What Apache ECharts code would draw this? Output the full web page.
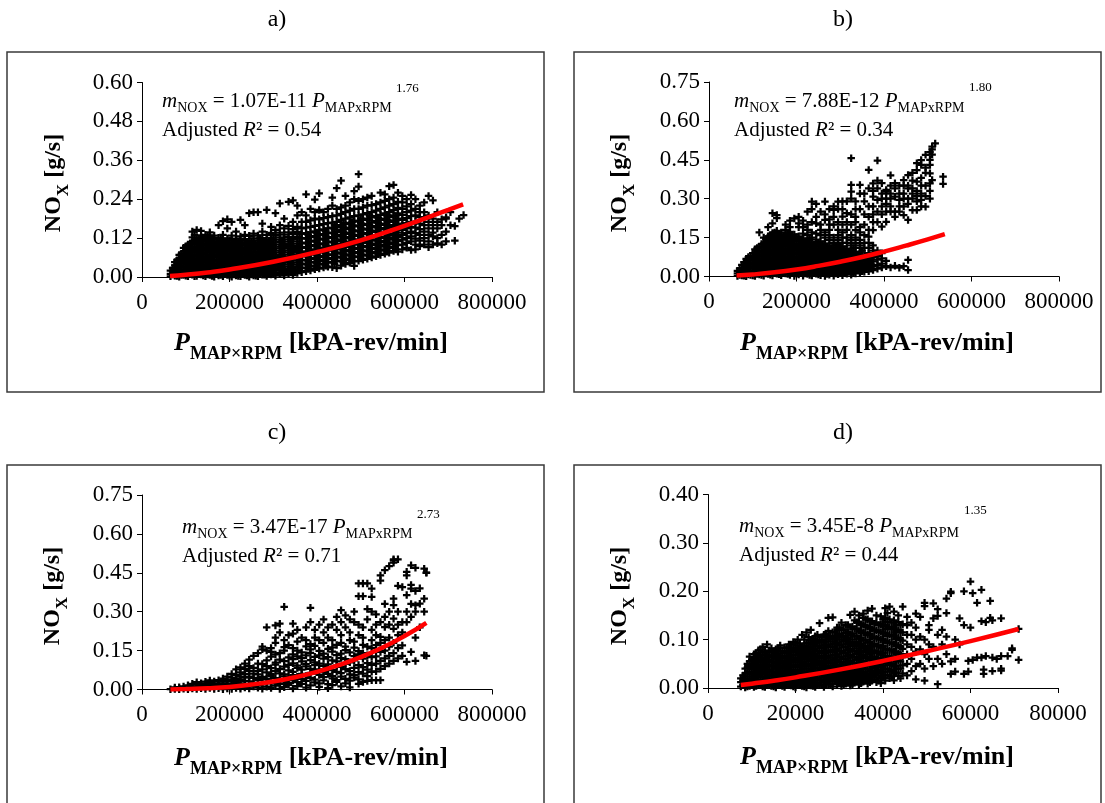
<!DOCTYPE html>
<html><head><meta charset="utf-8">
<script src="https://cdn.jsdelivr.net/npm/echarts@6/dist/echarts.min.js"></script>
<style>html,body{margin:0;padding:0;background:#fff}#c{width:1105px;height:803px}</style>
</head><body><div id="c"></div>
<script>
// ---------- DATA (x in thousands of kPA-rev/min, then NOx values [g/s] read at that x) ----------
const panelTitles = ['a)', 'b)', 'c)', 'd)'];
const eqCoef = ['1.07E-11', '7.88E-12', '3.47E-17', '3.45E-8'];
const eqExp = ['1.76', '1.80', '2.73', '1.35'];
const adjR2 = ['0.54', '0.34', '0.71', '0.44'];
const xMaxes = [800000, 800000, 800000, 80000];
const xSteps = [200000, 200000, 200000, 20000];
const yMaxes = [0.60, 0.75, 0.75, 0.40];
const ySteps = [0.12, 0.15, 0.15, 0.10];

const ptsA = [
[65,[.002,.01,.02]],
[70,[.008,.019,.028]],
[75,[.004,.014,.025,.036,.046]],
[80,[.003,.016,.03,.041,.052]],
[85,[.001,.011,.022,.034,.046,.058,.068]],
[90,[.006,.02,.031,.047,.06,.072]],
[95,[.006,.017,.029,.041,.053,.065,.078,.09]],
[100,[.004,.017,.03,.043,.057,.07,.082,.095]],
[105,[.002,.013,.025,.037,.049,.061,.074,.087,.1]],
[110,[.009,.022,.035,.05,.063,.077,.09,.104]],
[115,[.007,.019,.031,.043,.055,.068,.081,.094,.108,.122,.14]],
[120,[.002,.016,.03,.044,.057,.07,.085,.1,.113,.13]],
[125,[.003,.014,.026,.038,.05,.063,.076,.089,.102,.116,.145]],
[130,[.01,.023,.037,.051,.065,.079,.092,.106,.12]],
[135,[.008,.02,.032,.044,.057,.07,.083,.096,.11,.124,.142]],
[140,[.005,.02,.033,.047,.061,.074,.088,.102,.115]],
[145,[.002,.013,.025,.037,.05,.063,.076,.089,.103,.117,.13]],
[150,[.008,.03,.045,.057,.07,.086,.099,.112,.125]],
[155,[.006,.018,.03,.042,.055,.068,.081,.094,.108,.122,.138]],
[160,[.003,.017,.03,.049,.064,.078,.091,.107,.12]],
[165,[.001,.012,.024,.036,.049,.062,.075,.088,.101,.115,.128]],
[170,[.01,.022,.039,.053,.07,.085,.098,.11]],
[175,[.005,.017,.029,.041,.054,.067,.08,.093,.107,.121,.16]],
[180,[.006,.02,.033,.045,.06,.073,.089,.103,.115]],
[185,[.002,.011,.023,.035,.048,.061,.074,.087,.1,.114,.13,.172]],
[190,[.009,.024,.037,.05,.067,.081,.095,.11]],
[195,[.006,.016,.028,.04,.053,.066,.079,.092,.105,.119,.15,.178]],
[200,[.004,.016,.03,.043,.057,.07,.084,.097,.112]],
[205,[.001,.01,.022,.034,.047,.06,.073,.086,.1,.113,.128,.17]],
[210,[.008,.02,.034,.049,.062,.076,.09,.106]],
[215,[.005,.015,.027,.039,.052,.065,.078,.091,.104,.118,.14]],
[220,[.003,.017,.028,.04,.055,.068,.081,.094,.108]],
[225,[.002,.01,.021,.033,.046,.059,.072,.085,.098,.112,.125,.176]],
[230,[.01,.022,.035,.05,.063,.078,.09,.105]],
[235,[.006,.016,.027,.039,.051,.064,.077,.09,.103,.117,.13,.16]],
[240,[.005,.017,.03,.044,.057,.07,.083,.1]],
[245,[.001,.011,.022,.034,.046,.059,.072,.085,.098,.112,.127,.197]],
[250,[.008,.024,.037,.05,.064,.078,.093,.11]],
[255,[.005,.016,.028,.04,.052,.065,.078,.091,.105,.119,.134,.2]],
[260,[.004,.016,.03,.043,.055,.069,.085,.1]],
[265,[.002,.012,.023,.035,.047,.06,.073,.086,.099,.113,.128,.2]],
[270,[.011,.023,.036,.049,.062,.075,.09,.105,.12]],
[275,[.007,.018,.029,.041,.053,.066,.079,.092,.106,.12,.14,.165]],
[280,[.007,.019,.032,.045,.058,.07,.083,.096,.11]],
[285,[.003,.013,.024,.036,.048,.061,.074,.087,.1,.114,.13,.207]],
[290,[.013,.025,.038,.051,.064,.077,.09,.104]],
[295,[.008,.019,.03,.042,.054,.067,.08,.093,.107,.121,.136,.155]],
[300,[.009,.021,.034,.047,.06,.073,.086,.1,.115]],
[305,[.004,.014,.025,.037,.049,.062,.075,.088,.101,.115,.13,.145,.197]],
[315,[.009,.02,.031,.043,.055,.068,.081,.094,.108,.122,.137,.16,.227]],
[320,[.013,.028,.041,.054,.067,.08,.095,.11]],
[325,[.005,.015,.026,.038,.05,.063,.076,.089,.102,.116,.131,.15,.18]],
[335,[.01,.021,.032,.044,.056,.069,.082,.095,.109,.123,.138,.158,.232]],
[340,[.018,.03,.043,.058,.071,.085,.1,.115]],
[345,[.006,.016,.027,.039,.051,.064,.077,.09,.103,.117,.132,.148,.17,.236]],
[355,[.012,.022,.033,.045,.057,.07,.083,.096,.11,.124,.139,.155,.19,.22]],
[360,[.02,.034,.047,.06,.074,.088,.1,.12]],
[365,[.015,.027,.039,.051,.064,.077,.09,.104,.118,.133,.15,.17,.2]],
[375,[.018,.029,.041,.053,.066,.079,.092,.106,.12,.135,.152,.17,.19,.255]],
[380,[.025,.037,.05,.063,.076,.09,.104,.118,.13]],
[385,[.02,.032,.044,.056,.069,.082,.095,.109,.123,.138,.155,.175,.21]],
[395,[.024,.035,.047,.059,.072,.085,.098,.112,.126,.141,.158,.18,.2,.239]],
[400,[.03,.043,.056,.07,.083,.095,.11,.123,.137]],
[405,[.026,.038,.05,.062,.075,.088,.101,.115,.129,.144,.16,.178,.207,.258]],
[415,[.029,.041,.053,.065,.078,.091,.104,.118,.132,.147,.163,.182,.2]],
[420,[.035,.048,.061,.074,.087,.1,.114,.128,.142]],
[425,[.032,.044,.056,.068,.081,.094,.107,.121,.135,.15,.166,.185,.21]],
[435,[.03,.046,.058,.07,.083,.096,.109,.123,.137,.152,.168,.188,.22,.245]],
[440,[.04,.053,.066,.079,.092,.105,.119,.133,.147,.16]],
[445,[.027,.048,.06,.072,.085,.098,.111,.125,.139,.154,.17,.19,.21,.274]],
[455,[.035,.05,.063,.076,.089,.102,.116,.13,.145,.16,.176,.195,.215,.297]],
[460,[.045,.058,.071,.084,.097,.11,.124,.138,.152,.166]],
[465,[.04,.053,.066,.079,.092,.105,.119,.133,.148,.163,.18,.2,.22,.25]],
[475,[.044,.057,.07,.083,.096,.109,.123,.137,.152,.167,.184,.205,.23]],
[480,[.05,.063,.076,.089,.102,.115,.13,.143,.157,.17]],
[485,[.034,.048,.061,.074,.087,.1,.113,.127,.141,.156,.171,.188,.21,.24,.265]],
[495,[.05,.064,.077,.09,.103,.116,.13,.144,.159,.174,.19,.21,.235,.279,.317]],
[500,[.057,.07,.083,.096,.11,.124,.138,.152,.166,.18]],
[505,[.053,.066,.079,.092,.105,.118,.132,.146,.161,.176,.193,.215,.24]],
[515,[.056,.069,.082,.095,.108,.121,.135,.149,.164,.18,.197,.22,.245]],
[520,[.064,.077,.09,.103,.117,.131,.145,.16,.175,.19]],
[525,[.06,.073,.086,.099,.112,.125,.139,.153,.168,.184,.2,.222,.25]],
[535,[.064,.077,.09,.103,.116,.129,.143,.157,.172,.188,.205,.225]],
[540,[.07,.083,.096,.11,.124,.138,.152,.167,.182]],
[545,[.068,.081,.094,.107,.12,.133,.147,.161,.176,.192,.21,.23,.26]],
[555,[.072,.085,.098,.111,.124,.137,.151,.165,.18,.196,.215,.235,.255]],
[560,[.078,.091,.104,.118,.132,.146,.16,.175,.19]],
[565,[.075,.089,.102,.115,.128,.141,.155,.17,.185,.2,.22,.24,.28]],
[575,[.08,.094,.107,.12,.133,.146,.16,.175,.19,.206,.225,.245,.284]],
[580,[.085,.1,.114,.128,.142,.157,.172,.188]],
[585,[.078,.098,.111,.124,.137,.15,.165,.18,.196,.213,.232,.26]],
[595,[.085,.1,.115,.13,.145,.16,.176,.192,.21,.23,.25]],
[605,[.09,.105,.12,.135,.15,.166,.182,.2,.218,.24]],
[615,[.083,.11,.125,.14,.155,.17,.188,.205,.225,.253]],
[625,[.085,.1,.118,.135,.152,.17,.19,.21,.24]],
[635,[.095,.112,.13,.148,.165,.185,.2,.22]],
[645,[.1,.12,.14,.16,.18,.2,.23]],
[655,[.092,.11,.13,.15,.17,.19,.25]],
[665,[.1,.125,.137,.16,.18,.236]],
[675,[.104,.12,.15,.17,.2]],
[685,[.1,.13,.16,.178]],
[695,[.11,.14,.18,.184]],
[705,[.16,.2]],
[715,[.112,.157]],
[725,[.18]],
[735,[.191]]
];
const fitA = [[64,.003],[100,.007],[150,.014],[200,.023],[300,.047],[400,.077],[500,.113],[600,.158],[700,.207],[734,.224]];

const ptsB = [
[65,[.002,.012,.022]],
[70,[.006,.02,.03]],
[75,[.004,.018,.032,.045]],
[80,[.003,.017,.03,.045,.055]],
[85,[.001,.014,.028,.042,.056,.068]],
[90,[.008,.022,.037,.052,.066,.075]],
[95,[.006,.02,.035,.05,.065,.08]],
[100,[.004,.018,.033,.048,.063,.078,.09]],
[105,[.002,.016,.031,.046,.061,.076,.092,.105]],
[110,[.01,.025,.04,.055,.07,.085,.1,.11]],
[115,[.008,.023,.038,.053,.068,.084,.1,.116,.17]],
[120,[.006,.021,.036,.051,.066,.081,.096,.112,.125]],
[125,[.003,.018,.033,.048,.063,.079,.095,.111,.128,.15]],
[130,[.012,.027,.042,.057,.072,.087,.102,.118,.133,.145]],
[135,[.01,.025,.04,.055,.071,.087,.103,.12,.137,.155,.19]],
[140,[.007,.022,.037,.052,.067,.082,.097,.112,.128,.143,.16]],
[145,[.004,.019,.034,.05,.066,.082,.098,.115,.132,.15,.168,.205,.244]],
[150,[.014,.029,.044,.059,.074,.089,.104,.12,.136,.152,.17]],
[155,[.011,.026,.042,.058,.074,.09,.107,.124,.141,.158,.176,.237,.225]],
[160,[.009,.024,.039,.054,.069,.084,.099,.115,.131,.147,.165]],
[165,[.005,.02,.035,.051,.067,.083,.1,.117,.134,.151,.17]],
[170,[.015,.03,.045,.06,.075,.09,.106,.122,.138,.155]],
[175,[.012,.027,.043,.059,.075,.091,.108,.125,.142,.16,.18,.2]],
[180,[.01,.025,.04,.055,.07,.085,.1,.116,.132,.148,.165]],
[185,[.006,.021,.036,.052,.068,.084,.101,.118,.135,.152,.172,.19,.215]],
[190,[.016,.031,.046,.061,.076,.091,.107,.123,.14,.158]],
[195,[.002,.014,.029,.045,.061,.077,.093,.11,.127,.144,.162,.224]],
[200,[.011,.026,.041,.056,.071,.086,.102,.118,.135,.152]],
[205,[.008,.023,.038,.054,.07,.086,.103,.12,.137,.155,.19,.205,.23]],
[210,[.017,.032,.047,.062,.077,.092,.108,.124,.142]],
[215,[.003,.016,.031,.047,.063,.079,.095,.112,.129,.146,.165,.19,.215]],
[220,[.012,.027,.042,.057,.072,.087,.103,.12,.137]],
[225,[.01,.025,.04,.056,.072,.088,.105,.122,.14,.16,.18,.2,.25]],
[230,[.006,.02,.035,.05,.065,.08,.096,.112,.128,.145]],
[235,[.004,.018,.033,.049,.065,.081,.097,.114,.131,.15,.17,.21,.26,.289]],
[240,[.013,.028,.043,.058,.073,.089,.105,.122]],
[245,[.011,.026,.042,.058,.074,.09,.107,.124,.142,.165,.205,.23,.28]],
[250,[.008,.022,.037,.052,.067,.082,.098,.115,.13]],
[255,[.005,.02,.035,.051,.067,.083,.1,.117,.135,.16,.18,.2,.25]],
[260,[.015,.03,.045,.06,.075,.091,.107,.124]],
[265,[.002,.013,.028,.044,.06,.076,.092,.109,.127,.15,.17,.218,.24,.289]],
[270,[.01,.024,.039,.054,.069,.085,.1,.117]],
[275,[.007,.022,.037,.053,.069,.085,.102,.12,.14,.16,.18,.2,.22,.26]],
[280,[.017,.032,.047,.062,.077,.093,.11]],
[285,[.003,.015,.03,.046,.062,.078,.094,.112,.13,.15,.2,.23,.257,.27]],
[290,[.012,.026,.041,.056,.071,.087,.104,.12]],
[295,[.009,.024,.04,.056,.072,.088,.105,.122,.14,.16,.18,.21,.26,.289]],
[300,[.019,.034,.049,.064,.079,.095,.11]],
[305,[.005,.018,.033,.049,.065,.081,.098,.115,.13,.15,.17,.2,.231,.26,.29]],
[310,[.014,.029,.044,.059,.074,.09,.106]],
[315,[.011,.026,.042,.058,.074,.09,.107,.13,.15,.18,.21,.244,.29]],
[320,[.02,.036,.051,.066,.081,.097]],
[325,[.007,.02,.035,.051,.067,.083,.1,.12,.14,.16,.2,.24,.3,.327,.353,.456]],
[330,[.016,.031,.046,.061,.076,.092,.11]],
[335,[.012,.028,.044,.06,.076,.092,.11,.13,.15,.179,.21,.23,.26,.29]],
[340,[.024,.039,.054,.069,.085]],
[345,[.015,.03,.046,.062,.078,.095,.12,.141,.17,.19,.26,.32,.353]],
[350,[.02,.035,.05,.066,.082,.1]],
[355,[.018,.034,.05,.066,.082,.11,.13,.16,.2,.24,.29,.32]],
[360,[.028,.044,.06,.078]],
[365,[.02,.037,.053,.07,.09,.11,.13,.154,.18,.23,.27,.34,.411]],
[370,[.035,.05,.068]],
[375,[.025,.04,.058,.075,.1,.12,.179,.21,.24,.27,.308,.33,.359]],
[385,[.03,.045,.065,.08,.1,.21,.25,.295,.34,.37,.447]],
[395,[.035,.05,.07,.09,.192,.24,.27,.3,.32,.36]],
[405,[.04,.06,.211,.25,.28,.3,.327,.334]],
[415,[.035,.25,.27,.3,.32,.35,.39]],
[425,[.041,.23,.25,.308,.34,.36]],
[435,[.034,.25,.27,.295,.32,.35]],
[445,[.04,.237,.27,.3,.32,.35,.372]],
[455,[.025,.064,.218,.28,.3,.34,.35,.391]],
[465,[.256,.3,.32,.34,.37,.4]],
[475,[.256,.29,.31,.33,.366,.41,.437]],
[485,[.27,.295,.32,.35,.38,.43,.449]],
[495,[.269,.31,.35,.4,.42,.469]],
[505,[.3,.33,.359,.398,.43,.45,.48]],
[510,[.372,.47,.49,.501]],
[517,[.513]],
[535,[.357,.385]]
];
const fitB = [[63,.004],[100,.008],[150,.016],[200,.027],[250,.041],[300,.057],[350,.075],[400,.096],[450,.119],[500,.143],[539,.163]];

const ptsC = [
[65,[.001]],
[75,[.002,.008]],
[85,[.001,.009]],
[95,[.003,.012]],
[105,[.001,.008,.016]],
[115,[.004,.012,.022]],
[125,[.002,.01,.019,.028]],
[135,[.005,.014,.024]],
[145,[.002,.011,.02,.03]],
[155,[.006,.015,.025,.035]],
[165,[.002,.011,.021,.031]],
[175,[.005,.014,.024,.036]],
[185,[.001,.01,.02,.03,.042]],
[195,[.004,.013,.024,.036,.05]],
[205,[.002,.011,.021,.033,.046,.06]],
[215,[.006,.016,.028,.041,.056,.078]],
[225,[.003,.012,.024,.037,.05,.066,.085]],
[235,[.008,.02,.033,.046,.06,.08,.1]],
[245,[.004,.019,.031,.05,.072,.09,.115]],
[255,[.012,.026,.045,.061,.083,.13]],
[265,[.007,.016,.036,.058,.072,.1,.14]],
[275,[.003,.021,.043,.049,.078,.098,.155,.165]],
[285,[.011,.03,.041,.066,.09,.112,.15,.24]],
[295,[.006,.024,.052,.059,.082,.127,.145,.16]],
[305,[.015,.027,.044,.071,.096,.104,.135,.18,.2,.247]],
[315,[.002,.021,.035,.062,.079,.115,.14,.22,.254]],
[325,[.009,.03,.051,.058,.088,.109,.15,.163,.19,.319]],
[335,[.018,.026,.047,.074,.095,.124,.171,.21]],
[345,[.004,.036,.055,.068,.101,.117,.135,.16,.215,.254]],
[355,[.013,.028,.049,.083,.092,.128,.15,.185,.23]],
[365,[.022,.041,.06,.077,.108,.121,.143,.2]],
[375,[.007,.033,.052,.089,.098,.132,.166,.19,.24]],
[385,[.016,.045,.064,.08,.113,.141,.155,.175,.26,.315]],
[395,[.027,.038,.071,.094,.105,.126,.168,.2,.23]],
[405,[.01,.024,.056,.078,.1,.132,.149,.19,.25]],
[415,[.035,.048,.067,.091,.119,.138,.18,.22,.27]],
[425,[.005,.021,.06,.084,.097,.125,.157,.2,.24]],
[435,[.017,.043,.052,.075,.112,.146,.162,.19,.25]],
[445,[.029,.036,.068,.092,.108,.133,.172,.23,.28]],
[455,[.012,.05,.063,.087,.121,.138,.18,.21,.26,.306]],
[465,[.024,.041,.079,.099,.117,.152,.165,.24,.286]],
[475,[.008,.034,.058,.071,.105,.143,.19,.22,.27]],
[485,[.046,.055,.083,.112,.129,.161,.185,.26,.3]],
[495,[.022,.039,.067,.094,.135,.148,.21,.25,.36,.409]],
[505,[.029,.061,.086,.119,.14,.172,.2,.24,.36,.409]],
[515,[.033,.052,.077,.102,.132,.165,.27,.31,.409]],
[525,[.036,.068,.095,.125,.16,.19,.23,.3,.357,.389]],
[535,[.036,.07,.1,.128,.171,.21,.25,.29]],
[545,[.036,.08,.11,.145,.18,.203,.26,.42,.44]],
[555,[.09,.12,.15,.19,.241,.28,.33,.46]],
[565,[.1,.13,.165,.2,.25,.3,.476]],
[575,[.11,.14,.18,.234,.273,.325,.35,.489,.498,.502]],
[585,[.12,.16,.21,.25,.3,.4,.502]],
[595,[.13,.17,.22,.26,.395]],
[605,[.107,.26,.3,.364,.44,.454]],
[615,[.145,.28,.33,.389,.403,.479]],
[625,[.11,.2,.3,.325,.38,.469]],
[635,[.24,.331,.39]],
[645,[.132,.3,.35,.466]],
[650,[.13,.45,.451]]
];
const fitC = [[65,0],[100,.002],[150,.005],[200,.01],[250,.019],[300,.031],[350,.047],[400,.068],[450,.094],[500,.125],[550,.162],[600,.206],[650,.257]];

const ptsD = [
[7.5,[.003,.012,.02]],
[8,[.006,.016,.026]],
[8.5,[.001,.01,.02,.03,.04]],
[9,[.003,.017,.03,.042,.05]],
[9.5,[.004,.014,.024,.034,.045,.055,.065]],
[10,[.007,.019,.028,.039,.049,.058]],
[10.5,[.002,.011,.021,.031,.041,.051,.061,.07]],
[11,[.004,.013,.024,.034,.044,.054,.064,.072]],
[11.5,[.006,.016,.026,.036,.046,.056,.066,.078]],
[12,[.008,.018,.029,.039,.049,.059,.069,.08]],
[12.5,[.003,.013,.023,.033,.043,.053,.063,.073,.085]],
[13,[.002,.012,.023,.033,.043,.053,.063,.075]],
[13.5,[.008,.018,.028,.038,.048,.058,.068,.09]],
[14,[.007,.017,.027,.037,.047,.057,.067,.078]],
[14.5,[.004,.014,.024,.034,.044,.054,.064,.074,.082]],
[15,[.003,.013,.024,.034,.045,.055,.066,.076]],
[15.5,[.001,.011,.021,.031,.041,.051,.061,.071,.08]],
[16,[.008,.019,.029,.039,.049,.059,.07,.082]],
[16.5,[.006,.016,.026,.036,.046,.056,.066,.076,.088]],
[17,[.004,.014,.025,.035,.045,.055,.066,.077]],
[17.5,[.002,.012,.022,.032,.042,.052,.062,.072,.084]],
[18,[.009,.02,.03,.04,.05,.061,.072,.083]],
[18.5,[.007,.017,.027,.037,.047,.057,.067,.077,.09]],
[19,[.005,.015,.026,.036,.046,.057,.068,.079,.09]],
[19.5,[.003,.013,.023,.033,.043,.053,.063,.073,.083,.095]],
[20,[.001,.011,.021,.032,.043,.053,.063,.074,.084,.094]],
[20.5,[.008,.018,.028,.038,.048,.058,.068,.078,.088,.1]],
[21,[.006,.016,.027,.037,.048,.059,.07,.081,.092]],
[21.5,[.004,.014,.024,.034,.044,.054,.064,.074,.085,.11]],
[22,[.003,.013,.023,.034,.045,.055,.066,.077,.088,.1]],
[22.5,[.001,.01,.02,.03,.04,.05,.06,.07,.08,.092,.115]],
[23,[.008,.018,.029,.04,.05,.061,.072,.083,.094,.105]],
[23.5,[.005,.015,.025,.035,.045,.055,.065,.075,.086,.098,.12]],
[24,[.004,.015,.026,.036,.047,.058,.069,.08,.091,.102]],
[24.5,[.002,.011,.021,.031,.041,.051,.061,.071,.082,.094,.107]],
[25,[.01,.02,.031,.042,.053,.064,.075,.086,.097,.11]],
[25.5,[.006,.016,.026,.036,.046,.056,.066,.077,.088,.1,.134]],
[26,[.006,.017,.028,.039,.05,.061,.072,.083,.094,.105]],
[26.5,[.002,.012,.022,.032,.042,.052,.062,.072,.083,.095,.11]],
[27,[.012,.022,.033,.044,.055,.066,.077,.088,.1,.112]],
[27.5,[.007,.017,.027,.037,.047,.057,.067,.078,.09,.103,.118,.145]],
[28,[.008,.019,.03,.041,.052,.063,.074,.085,.096,.108]],
[28.5,[.003,.013,.023,.033,.043,.053,.063,.074,.086,.1,.115,.146]],
[29,[.014,.025,.035,.046,.057,.068,.079,.091,.103,.116]],
[29.5,[.008,.018,.028,.038,.048,.058,.069,.081,.094,.108,.125]],
[30,[.01,.021,.031,.042,.053,.064,.076,.088,.1,.112,.125]],
[30.5,[.004,.014,.024,.034,.044,.054,.065,.077,.09,.104,.12,.135]],
[31,[.006,.016,.027,.038,.049,.06,.072,.084,.096,.108,.121]],
[31.5,[.009,.019,.029,.039,.049,.06,.072,.085,.099,.114,.13]],
[32,[.012,.022,.033,.044,.055,.067,.079,.091,.103,.116,.13]],
[32.5,[.005,.015,.025,.035,.045,.056,.068,.081,.095,.11,.126,.151]],
[33,[.008,.018,.029,.04,.051,.063,.075,.087,.1,.113,.127]],
[33.5,[.011,.021,.031,.041,.052,.064,.077,.091,.106,.122,.14,.158]],
[34,[.014,.024,.035,.046,.058,.07,.082,.095,.108,.122,.136]],
[34.5,[.007,.017,.027,.037,.048,.06,.073,.087,.102,.118,.135,.15]],
[35,[.01,.02,.031,.042,.054,.066,.078,.091,.104,.118,.132]],
[35.5,[.013,.023,.033,.044,.056,.069,.083,.098,.114,.13,.145,.154]],
[36,[.016,.027,.038,.05,.062,.074,.087,.1,.114,.128,.142]],
[36.5,[.009,.019,.029,.04,.052,.065,.079,.094,.11,.126,.142,.16]],
[37,[.012,.023,.034,.046,.058,.07,.083,.096,.11,.124,.138]],
[37.5,[.015,.025,.036,.048,.061,.075,.09,.106,.122,.138,.164]],
[38,[.018,.029,.041,.053,.065,.078,.091,.105,.119,.133]],
[38.5,[.012,.022,.033,.045,.058,.072,.087,.103,.119,.135,.15]],
[39,[.015,.026,.037,.049,.062,.075,.088,.102,.116,.13]],
[39.5,[.01,.02,.03,.042,.055,.069,.084,.1,.116,.132,.148]],
[40,[.022,.034,.046,.059,.072,.086,.1,.114,.128,.142]],
[40.5,[.015,.026,.039,.052,.066,.081,.097,.113,.13,.145,.165]],
[41,[.027,.04,.053,.066,.08,.094,.108,.122,.136,.155]],
[41.5,[.02,.034,.048,.063,.078,.094,.11,.126,.142,.168]],
[42,[.024,.037,.051,.065,.079,.093,.107,.121,.135]],
[42.5,[.016,.03,.045,.06,.075,.091,.107,.123,.14,.158]],
[43,[.032,.046,.06,.074,.088,.102,.116,.13]],
[43.5,[.025,.04,.056,.072,.088,.104,.12,.136,.15]],
[44,[.02,.04,.055,.07,.085,.1,.115,.13]],
[44.5,[.03,.047,.064,.081,.098,.115,.132,.168]],
[45.5,[.026,.05,.07,.09,.11,.13,.147]],
[46.5,[.035,.06,.085,.11,.135]],
[47.5,[.018,.045,.075,.1,.125,.154]],
[48.5,[.05,.08,.106,.147]],
[49.5,[.015,.04,.07,.1,.169,.176]],
[50.5,[.06,.09,.12,.13]],
[51.5,[.045,.085,.144,.175]],
[52.5,[.008,.06,.11,.149,.163]],
[53.5,[.05,.09,.12]],
[54.5,[.07,.106,.155,.185]],
[55.5,[.029,.055,.196,.199]],
[56.5,[.034,.06,.1]],
[57.5,[.09,.144]],
[58.5,[.029,.13,.2]],
[59.5,[.034,.056]],
[60,[.125,.22]],
[60.5,[.058,.196]],
[61.5,[.063,.176]],
[62.5,[.063,.138,.203]],
[63,[.029,.038]],
[63.5,[.066,.136]],
[64.5,[.145,.18]],
[65,[.035,.063,.14]],
[66,[.06]],
[67,[.036,.04,.066,.144]],
[68.5,[.066]],
[69.5,[.079,.082]],
[71,[.058,.122]]
];
const fitD = [[7.5,.006],[10,.009],[15,.015],[20,.022],[30,.038],[40,.056],[50,.076],[60,.097],[71,.122]];

// ---------- BUILD ----------
const allPts = [ptsA, ptsB, ptsC, ptsD];
const allFits = [fitA, fitB, fitC, fitD];
const toData = cols => cols.flatMap(([x, ys]) => ys.map(y => [x * 1000, y]));
const toFit = pts => pts.map(([x, y]) => [x * 1000, y]);

const FF = 'Liberation Serif';
const grids = [
  {left: 142, top: 82.5, width: 350, height: 194.5},
  {left: 709, top: 82, width: 350, height: 194.5},
  {left: 142, top: 495, width: 350, height: 194.5},
  {left: 708, top: 494.5, width: 350, height: 193.5}
];
// layout positions for panel furniture
const L = [
  {box:[7,52,537,340], title:[277,20], ytitle:[54,183], xtitle:[311,343], eq:[162,88], eq2:117, sup:[396,89]},
  {box:[574,52,527,340], title:[843,20], ytitle:[620,183], xtitle:[877,343], eq:[734,88], eq2:117, sup:[969,88]},
  {box:[7,465,537,345], title:[277,433], ytitle:[53,596], xtitle:[311,758], eq:[182,514], eq2:543, sup:[417,515]},
  {box:[574,465,527,345], title:[843,433], ytitle:[620,596], xtitle:[877,757], eq:[739,513], eq2:541.5, sup:[964,511]}
];
const plus = 'path://M3.5,0H6.5V3.5H10V6.5H6.5V10H3.5V6.5H0V3.5H3.5Z';

const xAxes = [], yAxes = [], series = [], graphics = [];
for (let i = 0; i < 4; i++) {
  xAxes.push({
    type: 'value', gridIndex: i, min: 0, max: xMaxes[i], interval: xSteps[i],
    splitLine: {show: false},
    axisLine: {onZero: false, lineStyle: {color: '#000', width: 1}},
    axisTick: {show: true, length: 5, lineStyle: {color: '#000'}},
    axisLabel: {color: '#000', fontFamily: FF, fontSize: 23, margin: 14, formatter: v => String(v)}
  });
  yAxes.push({
    type: 'value', gridIndex: i, min: 0, max: yMaxes[i], interval: ySteps[i],
    splitLine: {show: false},
    axisLine: {show: true, onZero: false, lineStyle: {color: '#000', width: 1}},
    axisTick: {show: true, length: 5, lineStyle: {color: '#000'}},
    axisLabel: {color: '#000', fontFamily: FF, fontSize: 23, margin: 9, formatter: v => v.toFixed(2)}
  });
  series.push({
    type: 'scatter', xAxisIndex: i, yAxisIndex: i, data: toData(allPts[i]),
    symbol: plus, symbolSize: 7.5, itemStyle: {color: '#000', opacity: 1}, silent: true, z: 2
  });
  series.push({
    type: 'line', xAxisIndex: i, yAxisIndex: i, data: toFit(allFits[i]), smooth: true,
    showSymbol: false, symbol: 'none', lineStyle: {color: '#ff0000', width: 4.5}, z: 5, silent: true
  });

  const p = L[i];
  graphics.push({type: 'rect', shape: {x: p.box[0], y: p.box[1], width: p.box[2], height: p.box[3]},
    style: {fill: 'none', stroke: '#3a3a3a', lineWidth: 1.5}, z: 1});
  graphics.push({type: 'text', x: p.title[0], y: p.title[1],
    style: {text: panelTitles[i], font: '24px "' + FF + '"', fill: '#000', align: 'center', verticalAlign: 'middle'}});
  // y axis title
  graphics.push({type: 'text', x: p.ytitle[0], y: p.ytitle[1], rotation: Math.PI / 2,
    style: {text: '{b|NO}{s|X}{b| [g/s]}', align: 'center', verticalAlign: 'middle', fill: '#000',
      rich: {
        b: {fontFamily: FF, fontWeight: 'bold', fontSize: 24, lineHeight: 36, verticalAlign: 'middle', fill: '#000'},
        s: {fontFamily: FF, fontWeight: 'bold', fontSize: 17, lineHeight: 17, verticalAlign: 'bottom', fill: '#000'}
      }}});
  // x axis title
  graphics.push({type: 'text', x: p.xtitle[0], y: p.xtitle[1],
    style: {text: '{p|P}{s|MAP×RPM}{b| [kPA-rev/min]}', align: 'center', verticalAlign: 'middle', fill: '#000',
      rich: {
        p: {fontFamily: FF, fontWeight: 'bold', fontStyle: 'italic', fontSize: 26, lineHeight: 40, verticalAlign: 'middle', fill: '#000'},
        b: {fontFamily: FF, fontWeight: 'bold', fontSize: 26, lineHeight: 40, verticalAlign: 'middle', fill: '#000'},
        s: {fontFamily: FF, fontWeight: 'bold', fontSize: 18, lineHeight: 18, verticalAlign: 'bottom', fill: '#000'}
      }}});
  // equation and adjusted R²
  const eqRich = {
    i: {fontFamily: FF, fontStyle: 'italic', fontSize: 21, lineHeight: 27, verticalAlign: 'middle', fill: '#000'},
    n: {fontFamily: FF, fontSize: 21, lineHeight: 27, verticalAlign: 'middle', fill: '#000'},
    s: {fontFamily: FF, fontSize: 14, lineHeight: 14, verticalAlign: 'bottom', fill: '#000'}
  };
  graphics.push({type: 'text', x: p.eq[0], y: p.eq[1],
    style: {text: '{i|m}{s|NOX}{n| = ' + eqCoef[i] + ' }{i|P}{s|MAPxRPM}',
      align: 'left', verticalAlign: 'top', fill: '#000', rich: eqRich}});
  graphics.push({type: 'text', x: p.eq[0], y: p.eq2,
    style: {text: '{n|Adjusted }{i|R}{n|² = ' + adjR2[i] + '}',
      align: 'left', verticalAlign: 'top', fill: '#000', rich: eqRich}});
  graphics.push({type: 'text', x: p.sup[0], y: p.sup[1],
    style: {text: eqExp[i], font: '13px "' + FF + '"', fill: '#000', align: 'left', verticalAlign: 'middle'}});
}

const chart = echarts.init(document.getElementById('c'), null, {renderer: 'canvas'});
chart.setOption({
  animation: false,
  backgroundColor: '#fff',
  grid: grids,
  xAxis: xAxes,
  yAxis: yAxes,
  series: series,
  graphic: graphics
});
</script>
</body></html>
